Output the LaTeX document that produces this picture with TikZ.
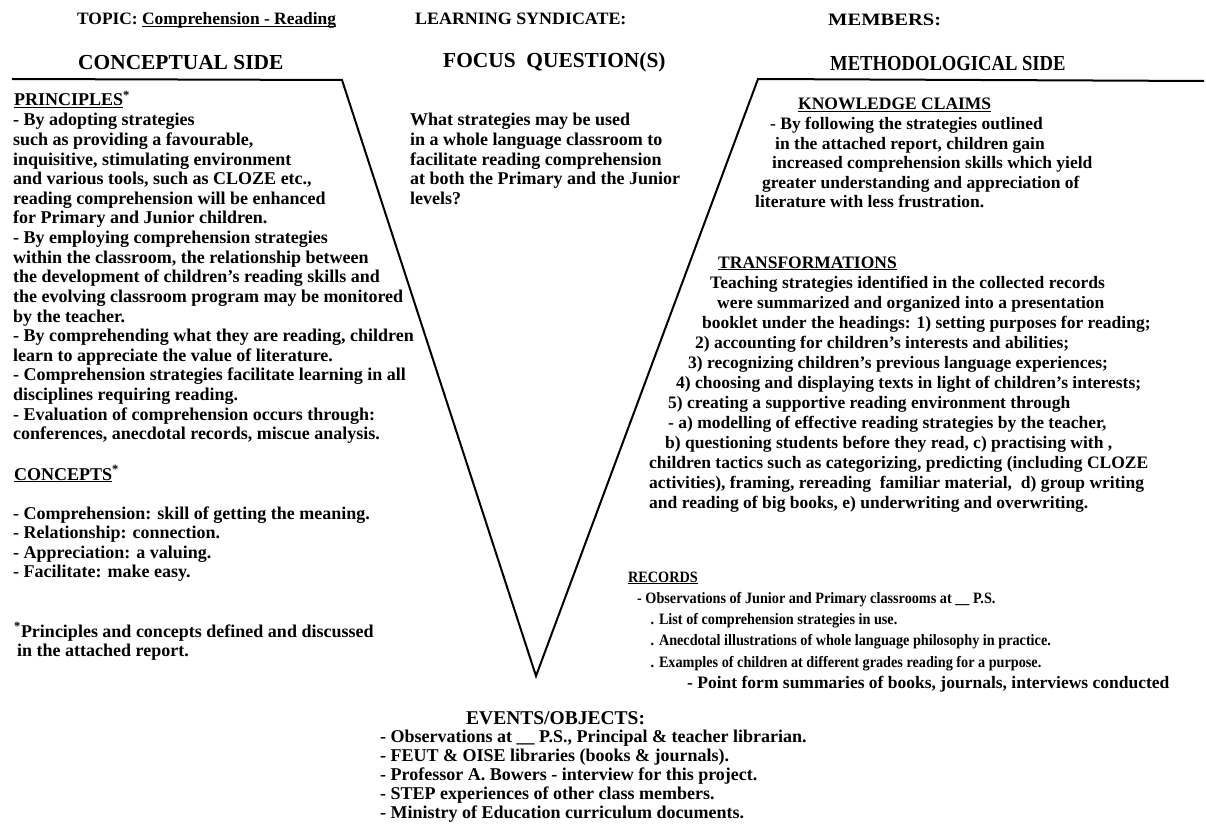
\documentclass[tikz,border=0pt]{standalone}
\usepackage{fontspec}
\setmainfont{Liberation Serif}
\newcommand\blk[2]{\vtop{\baselineskip=#1pt\lineskiplimit=-1000pt\lineskip=0pt\halign{##\hfil\cr#2\crcr}}}
\newcommand\ulin[1]{\setbox0=\hbox{#1}\rlap{\rule[-2.4pt]{\wd0}{1.3pt}}\box0}
\newcommand\indt[1]{\hspace*{#1pt}}
\tikzset{
  body/.style={anchor=base west, inner sep=0pt, font=\fontsize{18}{19.6}\selectfont\bfseries},
  rbody/.style={anchor=base west, inner sep=0pt, font=\fontsize{17.5}{20}\selectfont\bfseries},
  sbody/.style={anchor=base west, inner sep=0pt, font=\fontsize{15.8}{18}\selectfont\bfseries},
  head/.style={anchor=base west, inner sep=0pt, font=\fontsize{21.4}{24}\selectfont\bfseries},
  toplab/.style={anchor=base west, inner sep=0pt, font=\fontsize{17.4}{20}\selectfont\bfseries},
  vline/.style={line width=2pt, line join=miter},
}
\begin{document}
\begin{tikzpicture}[x=1pt,y=-1pt]
\useasboundingbox (0,0) rectangle (1206,837);
\fill[white] (0,0) rectangle (1206,837);
% the V
\coordinate (hl) at (12,79);
\coordinate (tl) at (342,80);
\coordinate (vx) at (536,676);
\coordinate (tr) at (758,79);
\coordinate (hr) at (1204,81);
\draw[vline] (hl) -- (tl) -- (vx) -- (tr) -- (hr);

% top labels
\node[toplab] (topic) at (77,25) {TOPIC: \ulin{Comprehension - Reading}};
\node[toplab] (synd) at (415,25) {\scalebox{1.03}[1]{LEARNING SYNDICATE:}};
\node[toplab] (memb) at (828,26) {\scalebox{1.18}[1]{MEMBERS:}};
\node[head] (cside) at (78,70) {CONCEPTUAL SIDE};
\node[head] (focus) at (443,68) {FOCUS\ \ QUESTION(S)};
\node[head] (mside) at (830,71) {\scalebox{0.87}[1]{METHODOLOGICAL SIDE}};

% conceptual side
\node[body] (princh) at (14,106) {\ulin{PRINCIPLES}\textsuperscript{*}};
\node[body] (princ) at (13,126) {\blk{19.6}{%
- By adopting strategies\cr
such as providing a favourable,\cr
inquisitive, stimulating environment\cr
and various tools, such as CLOZE etc.,\cr
reading comprehension will be enhanced\cr
for Primary and Junior children.\cr
- By employing comprehension strategies\cr
within the classroom, the relationship between\cr
the development of children's reading skills and\cr
the evolving classroom program may be monitored\cr
by the teacher.\cr
- By comprehending what they are reading, children\cr
learn to appreciate the value of literature.\cr
- Comprehension strategies facilitate learning in all\cr
disciplines requiring reading.\cr
- Evaluation of comprehension occurs through:\cr
conferences, anecdotal records, miscue analysis.}};
\node[body] (conch) at (14,480) {\ulin{CONCEPTS}\textsuperscript{*}};
\node[body] (conc) at (13,519) {\blk{19.6}{%
- Comprehension: skill of getting the meaning.\cr
- Relationship: connection.\cr
- Appreciation: a valuing.\cr
- Facilitate: make easy.}};
\node[body] (fnote) at (14,637) {\blk{19.6}{%
\textsuperscript{*}Principles and concepts defined and discussed\cr
\indt{3}in the attached report.}};

% focus question
\node[body] (fq) at (410,126) {\blk{19.6}{%
What strategies may be used\cr
in a whole language classroom to\cr
facilitate reading comprehension\cr
at both the Primary and the Junior\cr
levels?}};

% methodological side
\node[rbody] (know) at (755,110) {\blk{19.6}{%
\indt{43}\ulin{KNOWLEDGE CLAIMS}\cr
\indt{15}- By following the strategies outlined\cr
\indt{20}in the attached report, children gain\cr
\indt{17}increased comprehension skills which yield\cr
\indt{7}greater understanding and appreciation of\cr
literature with less frustration.}};

\node[rbody] (trans) at (649,268) {\blk{20}{%
\indt{69}\ulin{TRANSFORMATIONS}\cr
\indt{61}Teaching strategies identified in the collected records\cr
\indt{68}were summarized and organized into a presentation\cr
\indt{53}booklet under the headings: 1) setting purposes for reading;\cr
\indt{46}2) accounting for children's interests and abilities;\cr
\indt{39}3) recognizing children's previous language experiences;\cr
\indt{27}4) choosing and displaying texts in light of children's interests;\cr
\indt{19}5) creating a supportive reading environment through\cr
\indt{19}- a) modelling of effective reading strategies by the teacher,\cr
\indt{16}b) questioning students before they read, c) practising with ,\cr
children tactics such as categorizing, predicting (including CLOZE\cr
activities), framing, rereading\ \ familiar material,\ \ d) group writing\cr
and reading of big books, e) underwriting and overwriting.}};

\node[sbody] (rec) at (628,582) {\scalebox{0.9}[1]{\blk{21.3}{%
\ulin{RECORDS}\cr
\indt{10}- Observations of Junior and Primary classrooms at \_\_ P.S.\cr
\indt{25}. List of comprehension strategies in use.\cr
\indt{25}. Anecdotal illustrations of whole language philosophy in practice.\cr
\indt{25}. Examples of children at different grades reading for a purpose.}}};
\node[rbody] (recp) at (687,688) {- Point form summaries of books, journals, interviews conducted};

% events / objects
\node[anchor=base west, inner sep=0pt, font=\fontsize{19.5}{22}\selectfont\bfseries] (evh) at (466,724) {EVENTS/OBJECTS:};
\node[body] (ev) at (380,742) {\blk{19}{%
- Observations at \_\_ P.S., Principal \& teacher librarian.\cr
- FEUT \& OISE libraries (books \& journals).\cr
- Professor A. Bowers - interview for this project.\cr
- STEP experiences of other class members.\cr
- Ministry of Education curriculum documents.}};
\end{tikzpicture}
\end{document}
